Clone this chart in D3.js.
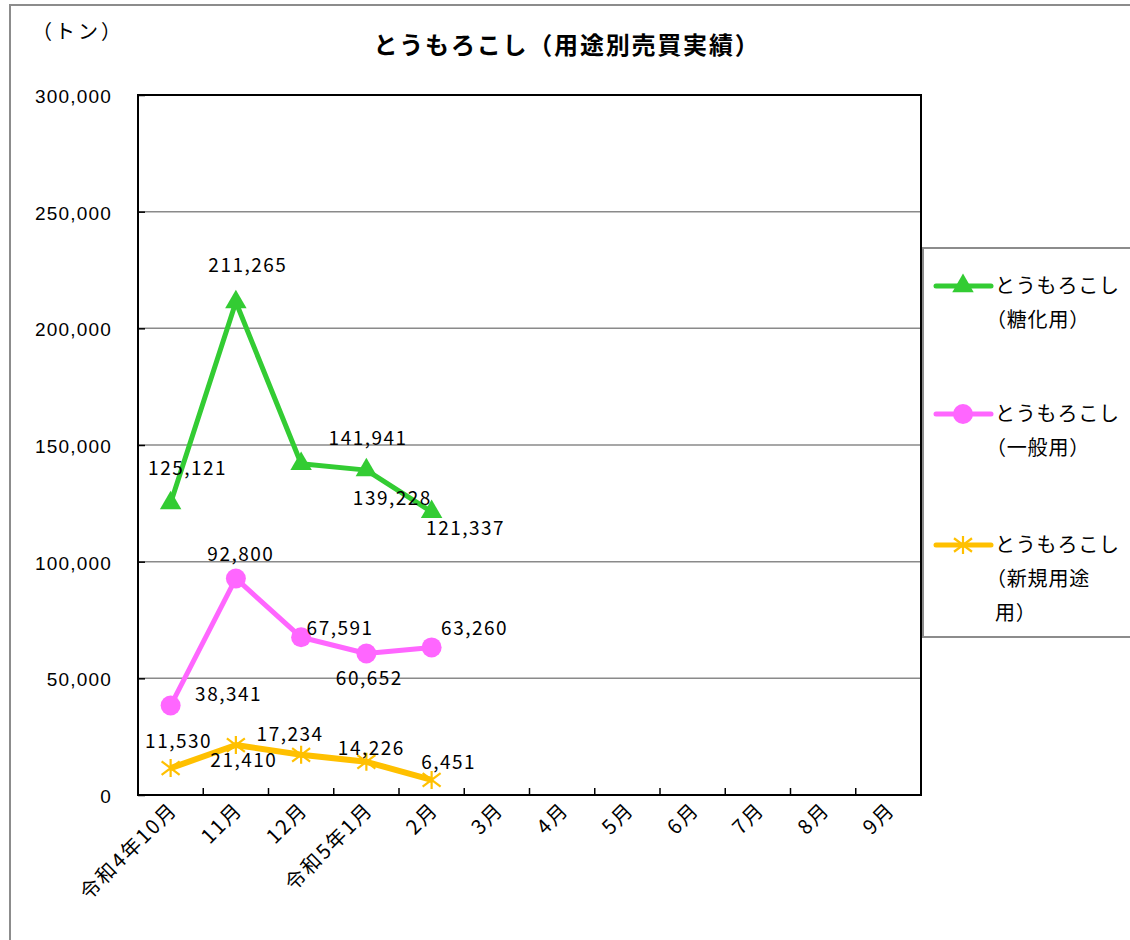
<!DOCTYPE html>
<html><head><meta charset="utf-8">
<script src="https://cdn.jsdelivr.net/npm/d3@7"></script>
<style>
html,body{margin:0;padding:0;background:#fff;}
svg{display:block;font-family:"Noto Sans CJK JP","Noto Sans",sans-serif;}
</style></head>
<body>
<svg id="c" width="1130" height="940"></svg>
<script>
const months = ["令和4年10月","11月","12月","令和5年1月","2月","3月","4月","5月","6月","7月","8月","9月"];
const yTicks = [0,50000,100000,150000,200000,250000,300000];
const seriesNames = [["とうもろこし","（糖化用）"],["とうもろこし","（一般用）"],["とうもろこし","（新規用途","用）"]];
const sugarVals = [125121,211265,141941,139228,121337];
const generalVals = [38341,92800,67591,60652,63260];
const newVals = [11530,21410,17234,14226,6451];
const colors = ["#33cc33","#ff66ff","#ffc000"];
// label offsets (dx, dy) relative to point
const sugarLab = [[17,-35],[12,-37],[67,-26],[26,28],[34,16]];
const generalLab = [[58,-12],[5,-25],[39,-10],[3,24],[43,-20]];
const newLab = [[8,-27],[8,15],[-11,-21],[5,-14],[17,-18]];

const svg = d3.select("#c");
const L=138, T=95, R=921, B=795;
const x = d3.scaleBand().domain(months).range([L,R]);
const y = d3.scaleLinear().domain([0,300000]).range([B,T]);
const fmt = d3.format(",");

// outer frame
svg.append("path").attr("d","M10,940 V5 H1130").attr("fill","none").attr("stroke","#8c8c8c").attr("stroke-width",2);

// title
svg.append("text").attr("x",567).attr("y",54).attr("text-anchor","middle")
  .attr("font-size",24).attr("font-weight","bold").attr("letter-spacing",1.8).text("とうもろこし（用途別売買実績）");
svg.append("text").attr("x",78).attr("y",39).attr("text-anchor","middle").attr("font-size",20).attr("letter-spacing",3).text("（トン）");

// gridlines
svg.append("g").selectAll("line").data(yTicks.filter(d=>d>0&&d<300000)).join("line")
  .attr("x1",L).attr("x2",R).attr("y1",d=>y(d)).attr("y2",d=>y(d))
  .attr("stroke","#8a8a8a").attr("stroke-width",1.5);

// y axis
const ya = svg.append("g").attr("transform",`translate(${L},0)`)
  .call(d3.axisLeft(y).tickValues(yTicks).tickFormat(fmt).tickSize(-7).tickPadding(26));
ya.select(".domain").remove();
ya.selectAll("line").attr("stroke","#000").attr("stroke-width",1.5);
ya.selectAll("text").attr("font-size",19).attr("font-family","inherit").attr("fill","#000").attr("letter-spacing",1.2).attr("dy","0.4em");

// x axis ticks at boundaries
svg.append("g").selectAll("line").data(months.slice(1)).join("line")
  .attr("x1",d=>x(d)).attr("x2",d=>x(d)).attr("y1",B).attr("y2",B-7)
  .attr("stroke","#000").attr("stroke-width",1.5);
svg.append("g").selectAll("text").data(months).join("text")
  .attr("transform",d=>`translate(${x(d)+x.bandwidth()/2+3},${806}) rotate(-45)`)
  .attr("text-anchor","end").attr("dy","0.35em").attr("font-size",20).attr("letter-spacing",2).text(d=>d);

// plot border
svg.append("rect").attr("x",L).attr("y",T).attr("width",R-L).attr("height",B-T)
  .attr("fill","none").attr("stroke","#000").attr("stroke-width",2);

const cx = i => x(months[i]) + x.bandwidth()/2;
const line = d3.line().x((d,i)=>cx(i)).y(d=>y(d));

function marker(g, type, color){
  if(type===0){
    g.append("path").attr("d", d3.symbol(d3.symbolTriangle, 200)()).attr("fill",color);
  } else if(type===1){
    g.append("circle").attr("r",10).attr("fill",color);
  } else {
    const s=9;
    g.append("path").attr("d",`M0,${-s}V${s}M${-s},${-s*0.75}L${s},${s*0.75}M${-s},${s*0.75}L${s},${-s*0.75}`)
      .attr("stroke",color).attr("stroke-width",2.2).attr("fill","none");
  }
}

const all = [sugarVals, generalVals, newVals];
const labs = [sugarLab, generalLab, newLab];
const widths = [5,5,6];
all.forEach((vals,k)=>{
  svg.append("path").datum(vals).attr("d",line).attr("fill","none")
    .attr("stroke",colors[k]).attr("stroke-width",widths[k]).attr("stroke-linejoin","round");
  vals.forEach((v,i)=>{
    const g = svg.append("g").attr("transform",`translate(${cx(i)},${y(v)})`);
    marker(g,k,colors[k]);
  });
});
all.forEach((vals,k)=>{
  svg.append("g").selectAll("text").data(vals).join("text")
    .attr("x",(d,i)=>cx(i)+labs[k][i][0]).attr("y",(d,i)=>y(d)+labs[k][i][1])
    .attr("text-anchor","middle").attr("dy","0.38em").attr("font-size",19).attr("letter-spacing",1.5)
    .text(d=>fmt(d));
});

// legend
svg.append("rect").attr("x",923).attr("y",248).attr("width",220).attr("height",389)
  .attr("fill","#fff").attr("stroke","#8c8c8c").attr("stroke-width",2);
const legY = [286,414,545];
seriesNames.forEach((lines,k)=>{
  const g = svg.append("g").attr("transform",`translate(0,${legY[k]})`);
  g.append("line").attr("x1",936).attr("x2",991).attr("y1",0).attr("y2",0)
    .attr("stroke",colors[k]).attr("stroke-width",5).attr("stroke-linecap","round");
  const m = g.append("g").attr("transform","translate(963,0)");
  marker(m,k,colors[k]);
  lines.forEach((t,j)=>{
    g.append("text").attr("x",t.startsWith("（")?986:995).attr("y",j*34).attr("dy","0.36em")
      .attr("font-size",20).attr("letter-spacing",0.8).text(t);
  });
});
</script>
</body></html>
